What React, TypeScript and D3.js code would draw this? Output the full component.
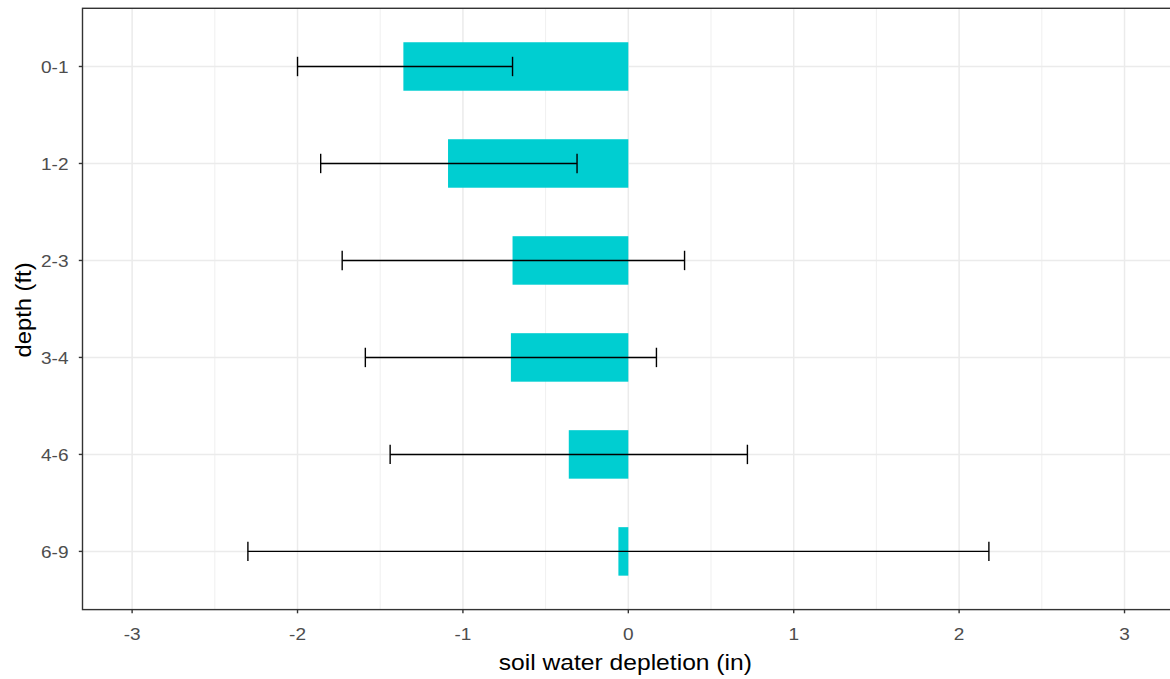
import React from "react";
import * as d3 from "d3";

const depths = ["0-1", "1-2", "2-3", "3-4", "4-6", "6-9"];
const meanDepletion = [-1.36, -1.09, -0.70, -0.71, -0.36, -0.06];
const errLow = [-2.0, -1.86, -1.73, -1.59, -1.44, -2.3];
const errHigh = [-0.7, -0.31, 0.34, 0.17, 0.72, 2.18];
const xTicks = [-3, -2, -1, 0, 1, 2, 3];
const xMinor = [-2.5, -1.5, -0.5, 0.5, 1.5, 2.5];

const W = 1170;
const H = 679;
const left = 82.5;
const top = 8.3;
const bottom = 609.6;
const unit = 165.4;
const right = left + 6.6 * unit;
const SX = 1.12;

export default function App() {
  const x = d3.scaleLinear().domain([-3.3, 3.3]).range([left, right]);
  const y = d3.scaleLinear().domain([0.4, 6.6]).range([top, bottom]);
  const yPos = (i: number) => y(i + 1);
  const barH = y(1.25) - y(0.75);
  const capH = y(1.1) - y(0.9);
  const font = "'Liberation Sans', Arial, sans-serif";
  const ticks = xTicks.map((t) => ({ t, px: x(t) }));

  return (
    <svg
      width={W}
      height={H}
      style={{ position: "absolute", left: 0, top: 0, background: "#fff" }}
    >
      <rect x={0} y={0} width={W} height={H} fill="#fff" />
      {xMinor.map((v) => (
        <line key={"mn" + v} x1={x(v)} x2={x(v)} y1={top} y2={bottom} stroke="#EBEBEB" strokeWidth={0.8} />
      ))}
      {ticks.map(({ t, px }) => (
        <line key={"mj" + t} x1={px} x2={px} y1={top} y2={bottom} stroke="#EBEBEB" strokeWidth={1.5} />
      ))}
      {depths.map((d, i) => (
        <line key={"gy" + d} x1={left} x2={right} y1={yPos(i)} y2={yPos(i)} stroke="#EBEBEB" strokeWidth={1.5} />
      ))}
      {depths.map((d, i) => (
        <rect
          key={"b" + d}
          x={Math.min(x(meanDepletion[i]), x(0))}
          width={Math.abs(x(0) - x(meanDepletion[i]))}
          y={yPos(i) - barH / 2}
          height={barH}
          fill="#00CED1"
        />
      ))}
      {depths.map((d, i) => {
        const cy = yPos(i);
        const x1 = x(errLow[i]);
        const x2 = x(errHigh[i]);
        return (
          <g key={"e" + d} stroke="#000" strokeWidth={1.4}>
            <line x1={x1} x2={x2} y1={cy} y2={cy} />
            <line x1={x1} x2={x1} y1={cy - capH / 2} y2={cy + capH / 2} />
            <line x1={x2} x2={x2} y1={cy - capH / 2} y2={cy + capH / 2} />
          </g>
        );
      })}
      <rect x={left} y={top} width={right - left} height={bottom - top} fill="none" stroke="#333333" strokeWidth={1.4} />
      {ticks.map(({ t, px }) => (
        <g key={"xt" + t}>
          <line x1={px} x2={px} y1={bottom} y2={bottom + 3.7} stroke="#333333" strokeWidth={1.4} />
          <text
            transform={`translate(${px}, 640) scale(${SX}, 1)`}
            textAnchor="middle"
            fontFamily={font}
            fontSize={17}
            fill="#4D4D4D"
          >
            {t < 0 ? "-" + Math.abs(t) : String(t)}
          </text>
        </g>
      ))}
      {depths.map((d, i) => (
        <g key={"yt" + d}>
          <line x1={left - 3.7} x2={left} y1={yPos(i)} y2={yPos(i)} stroke="#333333" strokeWidth={1.4} />
          <text
            transform={`translate(68.5, ${yPos(i)}) scale(${SX}, 1)`}
            dy="0.36em"
            textAnchor="end"
            fontFamily={font}
            fontSize={17}
            fill="#4D4D4D"
          >
            {d}
          </text>
        </g>
      ))}
      <text
        transform={`translate(${(left + right) / 2 - 3}, 670) scale(${SX}, 1)`}
        textAnchor="middle"
        fontFamily={font}
        fontSize={22}
        fill="#000"
      >
        soil water depletion (in)
      </text>
      <text
        transform={`translate(31, ${(top + bottom) / 2 + 1}) rotate(-90) scale(1.08, 1)`}
        textAnchor="middle"
        fontFamily={font}
        fontSize={22}
        fill="#000"
      >
        depth (ft)
      </text>
    </svg>
  );
}
